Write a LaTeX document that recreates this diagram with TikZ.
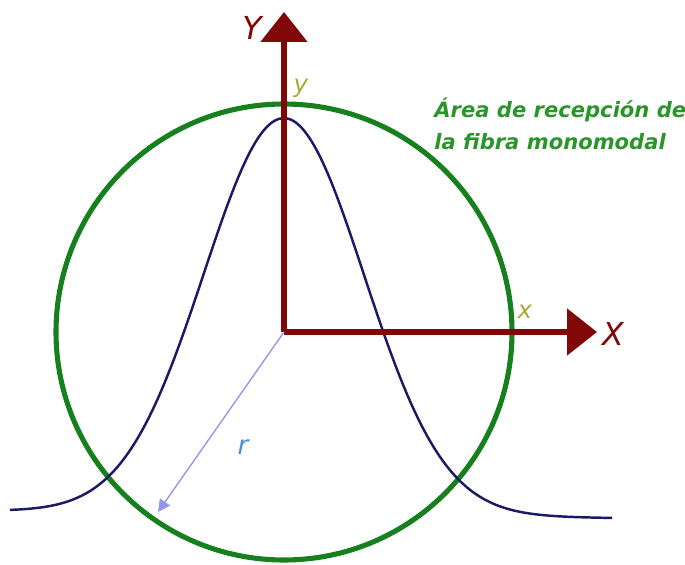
\documentclass[tikz,border=0pt]{standalone}
\usepackage{fontspec}
\setmainfont{DejaVu Sans}
\usetikzlibrary{arrows.meta}

\definecolor{axisred}{RGB}{128,8,8}
\definecolor{ringgreen}{RGB}{22,128,30}
\definecolor{textgreen}{RGB}{40,150,40}
\definecolor{curveblue}{RGB}{28,26,100}
\definecolor{radblue}{RGB}{150,150,240}
\definecolor{rlabel}{RGB}{80,140,230}
\definecolor{olive}{RGB}{170,170,60}

\tikzset{
  axis/.style={draw=axisred, line width=3.2pt,
    -{Triangle[length=17pt,width=26pt]}},
  ring/.style={draw=ringgreen, line width=2.9pt},
  gauss/.style={draw=curveblue, line width=1.4pt},
  radius arrow/.style={draw=radblue, line width=0.8pt,
    -{Triangle[length=7pt,width=7pt]}},
  bigletter/.style={text=axisred, font=\fontsize{18}{20}\selectfont\itshape},
  smallletter/.style={text=olive, font=\fontsize{14}{16}\selectfont\itshape},
}

\begin{document}
\begin{tikzpicture}[x=0.02cm, y=-0.02cm]
  \useasboundingbox (0,0) rectangle (685,564);

  % --- Parameters (pixel units) ---
  \def\cx{284}    % centre x
  \def\cy{332}    % centre y
  \def\rad{228}   % ring radius
  \def\sig{80}    % gaussian width

  \coordinate (O) at (\cx,\cy);
  \coordinate (Ytip) at (\cx,12);
  \coordinate (Xtip) at (597,\cy);
  \coordinate (rEnd) at (158,512);

  % --- Receiving area of the fibre ---
  \draw[ring] (O) circle[radius=\rad];

  % --- Gaussian profile ---
  \draw[gauss] plot[domain=10:612, samples=160, smooth]
    (\x, {511 + 7*(\x-10)/602 - 396*exp(-0.5*((\x-\cx)/\sig)^2)});

  % --- Axes ---
  \draw[axis] (O) -- (Ytip);
  \draw[axis] (O) -- (Xtip);

  % --- Radius ---
  \draw[radius arrow] (O) -- (rEnd);

  % --- Labels ---
  \node[bigletter] (Ylab) at (252,28) {Y};
  \node[bigletter] (Xlab) at (613,334) {X};
  \node[smallletter] (ylab) at (301,88) {y};
  \node[smallletter] (xlab) at (525,312) {x};
  \node[text=rlabel, font=\fontsize{15}{17}\selectfont\itshape] (rlab) at (243,447) {r};
  \node[anchor=west, align=left, text=textgreen,
        font=\fontsize{12}{18}\selectfont\bfseries\itshape, inner sep=0pt]
    (area) at (434,124) {Área de recepción de\\la fibra monomodal};
\end{tikzpicture}
\end{document}
